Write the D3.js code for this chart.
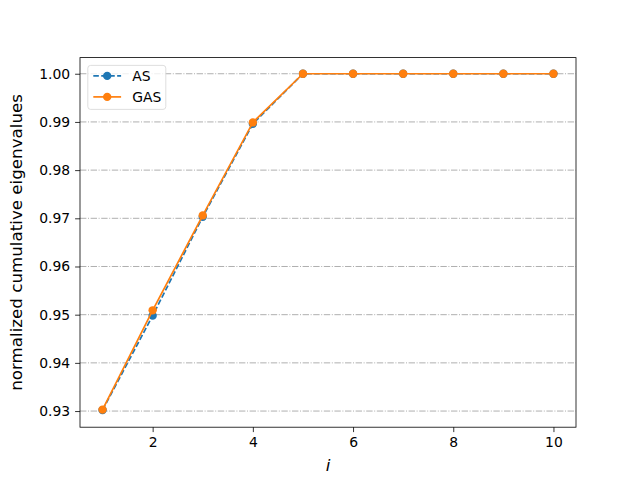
<!DOCTYPE html>
<html>
<head>
<meta charset="utf-8">
<script src="https://cdn.jsdelivr.net/npm/d3@7"></script>
<style>
  body { margin: 0; background: #fff; }
  text { font-family: "DejaVu Sans", sans-serif; }
</style>
</head>
<body>
<div id="chart"></div>
<script>
// data
var steps = [1, 2, 3, 4, 5, 6, 7, 8, 9, 10];
var asValues = [0.9302, 0.9498, 0.9703, 0.9896, 1.0, 1.0, 1.0, 1.0, 1.0, 1.0];
var gasValues = [0.9303, 0.9509, 0.9706, 0.9899, 1.0, 1.0, 1.0, 1.0, 1.0, 1.0];
var xTicks = [2, 4, 6, 8, 10];
var yTicks = [0.93, 0.94, 0.95, 0.96, 0.97, 0.98, 0.99, 1.00];

var svgWidth = 640, svgHeight = 480;
var margin = { top: 57.6, right: 64, bottom: 52.8, left: 80 };
var width = svgWidth - margin.left - margin.right;
var height = svgHeight - margin.top - margin.bottom;

var svg = d3.select("#chart").append("svg")
  .attr("width", svgWidth)
  .attr("height", svgHeight);

var chartGroup = svg.append("g")
  .attr("transform", `translate(${margin.left}, ${margin.top})`);

var xScale = d3.scaleLinear().domain([0.55, 10.45]).range([0, width]);
var yScale = d3.scaleLinear().domain([0.92665, 1.00335]).range([height, 0]);

// horizontal dash-dot grid
chartGroup.selectAll(".grid")
  .data(yTicks)
  .enter()
  .append("line")
  .attr("x1", 0)
  .attr("x2", width)
  .attr("y1", d => yScale(d))
  .attr("y2", d => yScale(d))
  .attr("stroke", "#b0b0b0")
  .attr("stroke-width", 1)
  .attr("stroke-dasharray", "6.4,1.6,1,1.6");

// axes
var bottomAxis = d3.axisBottom(xScale).tickValues(xTicks).tickSize(4.9).tickPadding(4.9);
var leftAxis = d3.axisLeft(yScale).tickValues(yTicks).tickSize(4.9).tickPadding(4.9)
  .tickFormat(d3.format(".2f"));

var gx = chartGroup.append("g")
  .attr("transform", `translate(0, ${height})`)
  .call(bottomAxis);
var gy = chartGroup.append("g").call(leftAxis);

[gx, gy].forEach(function(g) {
  g.select(".domain").remove();
  g.selectAll(".tick line").attr("stroke", "#000").attr("stroke-width", 0.8);
  g.selectAll(".tick text")
    .attr("font-family", "DejaVu Sans, sans-serif")
    .attr("font-size", "13.9px")
    .attr("fill", "#000");
});

// series
var series = [
  { name: "AS", values: asValues, color: "#1f77b4", dash: "5.55,2.4" },
  { name: "GAS", values: gasValues, color: "#ff7f0e", dash: null }
];

var line = d3.line()
  .x((d, i) => xScale(steps[i]))
  .y(d => yScale(d));

series.forEach(function(s) {
  chartGroup.append("path")
    .datum(s.values)
    .attr("d", line)
    .attr("fill", "none")
    .attr("stroke", s.color)
    .attr("stroke-width", 1.7)
    .attr("stroke-dasharray", s.dash);

  chartGroup.selectAll(".pt-" + s.name)
    .data(s.values)
    .enter()
    .append("circle")
    .attr("cx", (d, i) => xScale(steps[i]))
    .attr("cy", d => yScale(d))
    .attr("r", 4.2)
    .attr("fill", s.color);
});

// frame
chartGroup.append("rect")
  .attr("width", width)
  .attr("height", height)
  .attr("fill", "none")
  .attr("stroke", "#000")
  .attr("stroke-width", 0.8);

// axis labels
chartGroup.append("text")
  .attr("transform", `translate(${-58}, ${height / 2}) rotate(-90)`)
  .attr("text-anchor", "middle")
  .attr("font-size", "16.7px")
  .text("normalized cumulative eigenvalues");

chartGroup.append("text")
  .attr("x", width / 2)
  .attr("y", height + 44)
  .attr("text-anchor", "middle")
  .attr("font-size", "16.7px")
  .attr("font-style", "italic")
  .text("i");

// legend
var legend = chartGroup.append("g")
  .attr("transform", "translate(7.8, 7.8)");

legend.append("rect")
  .attr("width", 78)
  .attr("height", 44)
  .attr("rx", 2.8)
  .attr("fill", "#fff")
  .attr("fill-opacity", 0.8)
  .attr("stroke", "#d6d6d6")
  .attr("stroke-width", 0.8);

series.forEach(function(s, i) {
  var cy = 10.5 + i * 21;
  legend.append("line")
    .attr("x1", 5.5)
    .attr("x2", 33.3)
    .attr("y1", cy)
    .attr("y2", cy)
    .attr("stroke", s.color)
    .attr("stroke-width", 1.7)
    .attr("stroke-dasharray", s.dash);
  legend.append("circle")
    .attr("cx", 19.4)
    .attr("cy", cy)
    .attr("r", 4.2)
    .attr("fill", s.color);
  legend.append("text")
    .attr("x", 44.5)
    .attr("y", cy + 4.8)
    .attr("font-size", "13.9px")
    .text(s.name);
});
</script>
</body>
</html>
